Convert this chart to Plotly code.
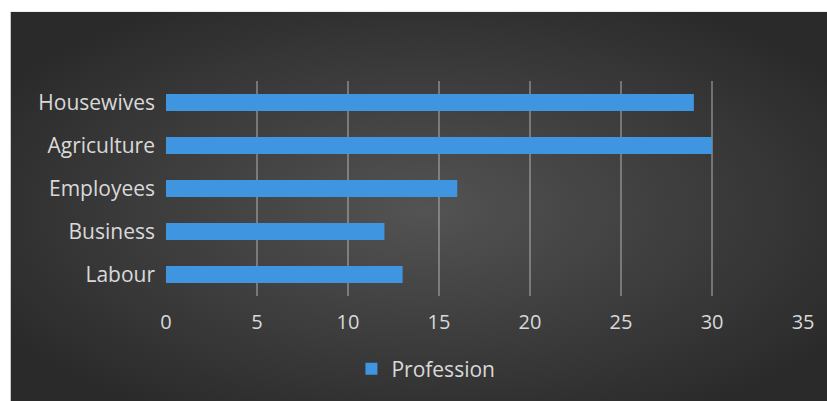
import plotly.graph_objects as go

categories = ["Labour", "Business", "Employees", "Agriculture", "Housewives"]
values = [13, 12, 16, 30, 29]
series_name = "Profession"
x_ticks = [0, 5, 10, 15, 20, 25, 30, 35]

W, H = 827, 401
L, R, T, B = 166, 21, 81, 103
pw, ph = W - L - R, H - T - B

svg = ("data:image/svg+xml;utf8,"
       "<svg xmlns='http://www.w3.org/2000/svg' width='830' height='400' preserveAspectRatio='none'>"
       "<defs><radialGradient id='g' cx='50%' cy='50%' r='60%'>"
       "<stop offset='0%' stop-color='%23535353'/>"
       "<stop offset='100%' stop-color='%232a2a2a'/>"
       "</radialGradient></defs>"
       "<rect width='830' height='400' fill='url(%23g)'/></svg>")

fig = go.Figure()
fig.add_trace(go.Bar(
    y=categories, x=values, orientation="h", name=series_name,
    marker=dict(color="#3f95e0", line=dict(width=0)),
    width=0.39, showlegend=True,
))

fig.add_layout_image(dict(
    source=svg, xref="paper", yref="paper",
    x=(10 - L) / pw, y=(H - B - 11) / ph,
    sizex=830 / pw, sizey=400 / ph,
    sizing="stretch", layer="below", xanchor="left", yanchor="top",
))

font_family = "Open Sans, Noto Sans, sans-serif"
fig.update_layout(
    width=W, height=H,
    margin=dict(l=L, r=R, t=T, b=B),
    paper_bgcolor="white",
    plot_bgcolor="rgba(0,0,0,0)",
    font=dict(family=font_family, color="#d9d9d9", size=21),
    bargap=0.61,
    showlegend=True,
    legend=dict(orientation="h", x=(352 - L) / pw, xanchor="left", y=-0.34, yanchor="middle",
                font=dict(size=21, color="#d9d9d9"), bgcolor="rgba(0,0,0,0)",
                itemwidth=30),
    xaxis=dict(range=[0, 35.05], tickvals=x_ticks, showgrid=True,
               gridcolor="rgba(200,200,200,0.42)", gridwidth=1.5,
               zeroline=False, showline=False, ticks="",
               ticklabelstandoff=12, tickfont=dict(size=20, color="#d9d9d9")),
    yaxis=dict(showgrid=False, zeroline=False, showline=False, ticks="",
               ticklabelstandoff=10, tickfont=dict(size=21, color="#d9d9d9")),
)

fig.write_html("out.html", config={"displayModeBar": False},
               post_script="document.body.style.margin='0';document.body.style.overflow='hidden';"
                           "document.body.style.background='#2b2b2b';")
